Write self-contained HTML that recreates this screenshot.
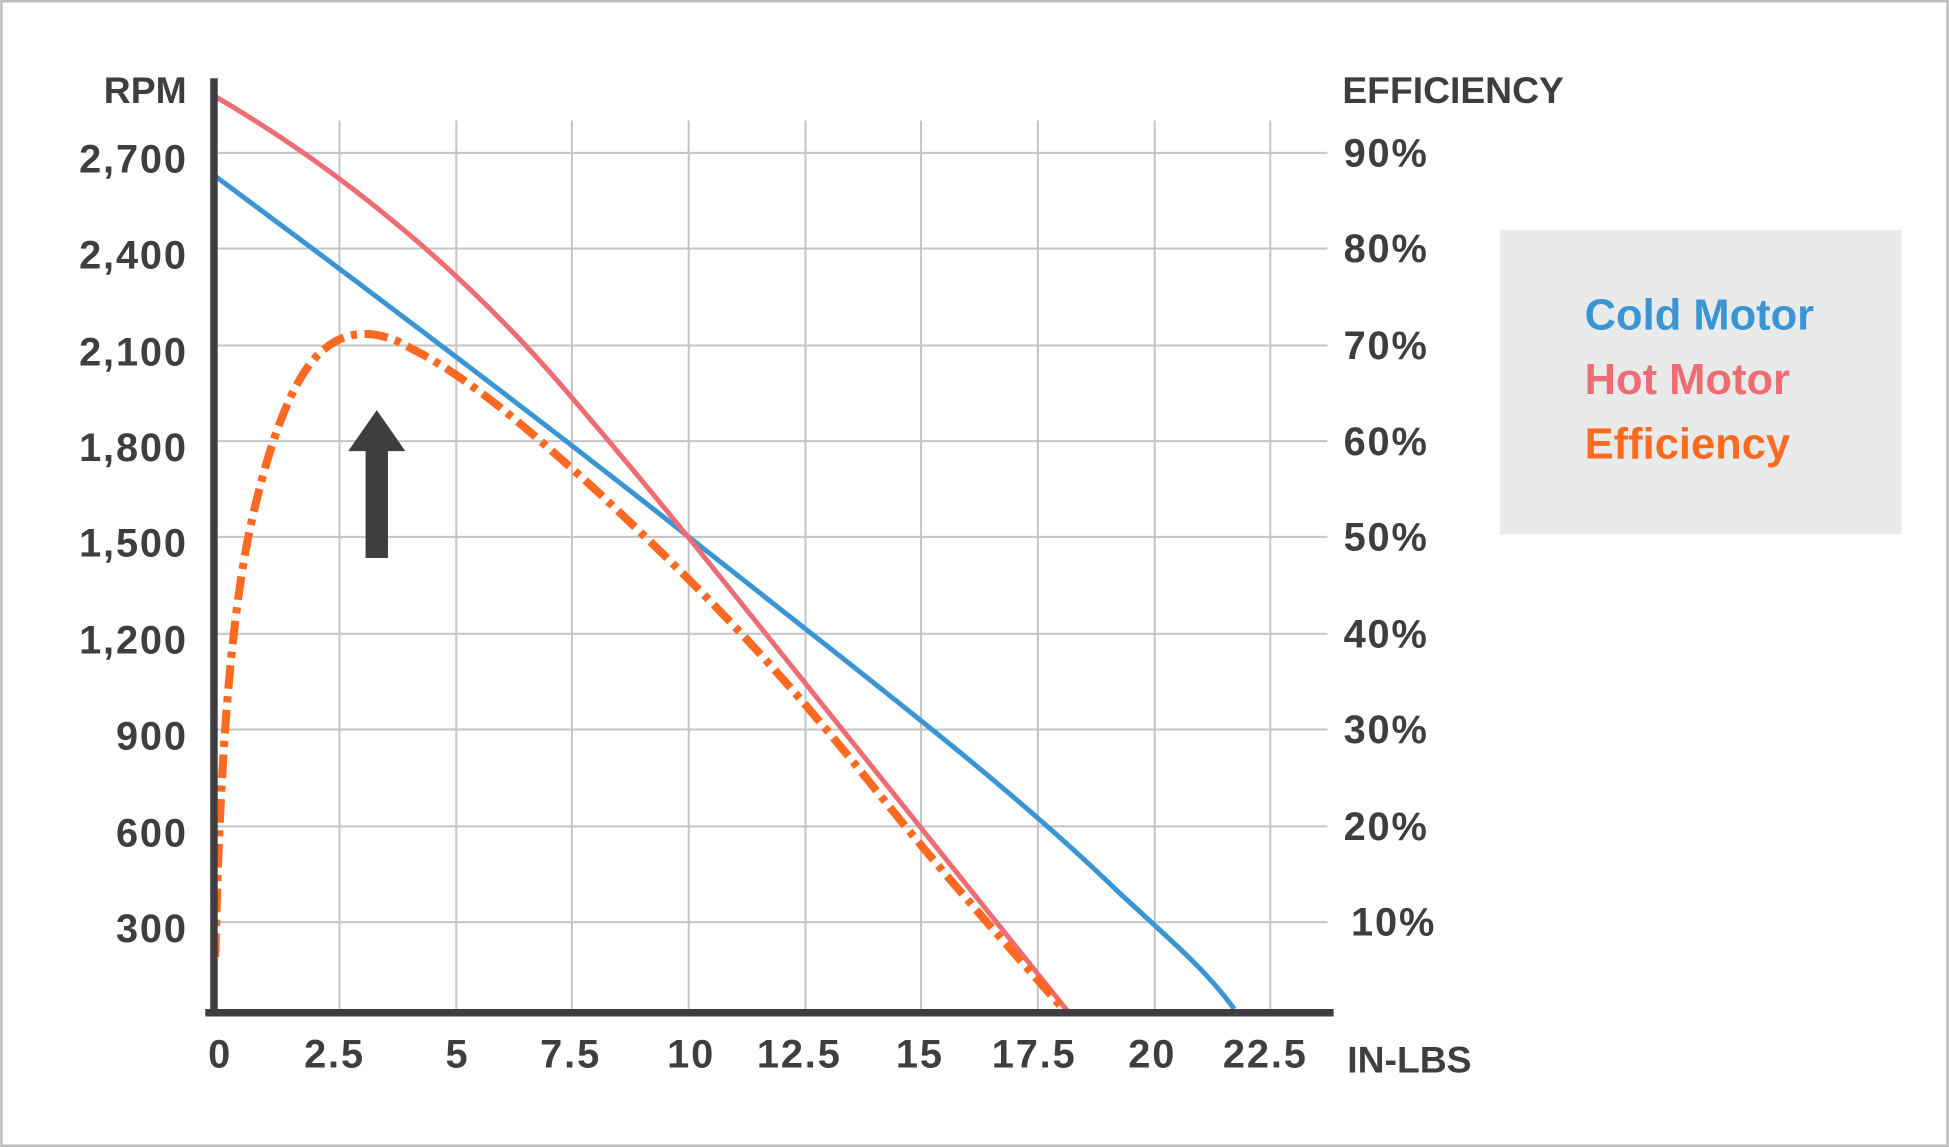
<!DOCTYPE html>
<html><head><meta charset="utf-8"><style>
html,body{margin:0;padding:0;background:#fff}
svg{display:block}
text{font-family:"Liberation Sans",sans-serif;font-weight:bold}
.n{font-size:32px;letter-spacing:1.5px}
</style></head><body>
<svg width="1949" height="1147" viewBox="0 0 1568 923" xmlns="http://www.w3.org/2000/svg">
<rect x="1" y="1" width="1566" height="921" fill="#fff" stroke="#bdbdbd" stroke-width="2"/>
<g stroke="#c4c4c4" stroke-width="1.6">
<line x1="273" y1="97" x2="273" y2="815"/><line x1="367" y1="97" x2="367" y2="815"/>
<line x1="460" y1="97" x2="460" y2="815"/><line x1="554" y1="97" x2="554" y2="815"/>
<line x1="648" y1="97" x2="648" y2="815"/><line x1="741" y1="97" x2="741" y2="815"/>
<line x1="835" y1="97" x2="835" y2="815"/><line x1="929" y1="97" x2="929" y2="815"/>
<line x1="1022" y1="97" x2="1022" y2="815"/>
<line x1="172" y1="123" x2="1068" y2="123"/><line x1="172" y1="200" x2="1068" y2="200"/>
<line x1="172" y1="278" x2="1068" y2="278"/><line x1="172" y1="355" x2="1068" y2="355"/>
<line x1="172" y1="432" x2="1068" y2="432"/><line x1="172" y1="510" x2="1068" y2="510"/>
<line x1="172" y1="587" x2="1068" y2="587"/><line x1="172" y1="665" x2="1068" y2="665"/>
<line x1="172" y1="742" x2="1068" y2="742"/>
</g>
<path d="M172,141 C300,236 430,334 554,432 C680,532 810,630 900,718 C940,755 970,780 993,812" fill="none" stroke="#3a95d3" stroke-width="4"/>
<path d="M172,77 C280,140 380,225 460,320 C520,390 560,440 600,490 C700,615 780,715 860,815" fill="none" stroke="#ee6c74" stroke-width="4"/>
<path d="M173,770 C176,650 182,520 200,430 C215,360 235,300 262,280 C280,265 305,265 330,280 C380,305 430,350 480,395 C560,470 620,530 700,630 C760,705 810,760 858,815" fill="none" stroke="#fc6a22" stroke-width="6.5" stroke-dasharray="19 6 5 6"/>
<polygon points="280,363 303,330 326,363" fill="#3f3d40"/>
<rect x="294" y="362" width="18" height="87" fill="#3f3d40"/>
<line x1="172" y1="63" x2="172" y2="818" stroke="#3f3d40" stroke-width="6"/>
<line x1="165" y1="815" x2="1073" y2="815" stroke="#3f3d40" stroke-width="6"/>
<text x="150" y="83" fill="#3f3d40" font-size="30" text-anchor="end">RPM</text>
<g fill="#3f3d40" class="n" text-anchor="end">
<text x="151" y="139">2,700</text><text x="151" y="216">2,400</text>
<text x="151" y="294">2,100</text><text x="151" y="371">1,800</text>
<text x="151" y="448">1,500</text><text x="151" y="526">1,200</text>
<text x="151" y="603">900</text><text x="151" y="681">600</text>
<text x="151" y="758">300</text>
</g>
<g fill="#3f3d40" font-size="30">
<text x="1080" y="83">EFFICIENCY</text>
<text x="1084" y="863">IN-LBS</text>
</g>
<g fill="#3f3d40" class="n">
<text x="1081" y="134">90%</text><text x="1081" y="211">80%</text>
<text x="1081" y="289">70%</text><text x="1081" y="366">60%</text>
<text x="1081" y="443">50%</text><text x="1081" y="521">40%</text>
<text x="1081" y="598">30%</text><text x="1081" y="676">20%</text>
<text x="1087" y="753">10%</text>
</g>
<g fill="#3f3d40" class="n" text-anchor="middle">
<text x="177" y="859">0</text><text x="269" y="859">2.5</text>
<text x="368" y="859">5</text><text x="459" y="859">7.5</text>
<text x="556" y="859">10</text><text x="643" y="859">12.5</text>
<text x="740" y="859">15</text><text x="832" y="859">17.5</text>
<text x="927" y="859">20</text><text x="1018" y="859">22.5</text>
</g>
<rect x="1207" y="185" width="323" height="245" fill="#e9eaea"/>
<g font-size="35">
<text x="1275" y="265" fill="#3a95d3">Cold Motor</text>
<text x="1275" y="317" fill="#ee6c74">Hot Motor</text>
<text x="1275" y="369" fill="#fc6a22">Efficiency</text>
</g>
</svg>
</body></html>
